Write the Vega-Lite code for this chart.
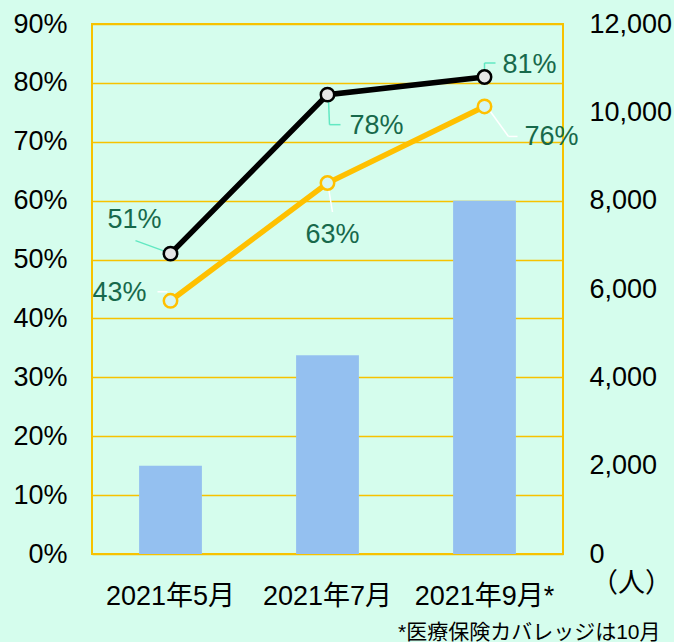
{
  "$schema": "https://vega.github.io/schema/vega-lite/v6.json",
  "width": 471,
  "height": 530,
  "autosize": {"type": "none"},
  "padding": {"left": 92, "top": 24, "right": 111, "bottom": 88},
  "background": "#d5fded",
  "config": {
    "font": "Liberation Sans, Noto Sans CJK JP",
    "view": {"stroke": "#f7c200", "strokeWidth": 2},
    "axis": {"labelFont": "Liberation Sans, Noto Sans CJK JP", "titleFont": "Liberation Sans, Noto Sans CJK JP"}
  },
  "data": {
    "values": [
      {"month": "2021年5月", "people": 2000, "rateA": 0.51, "rateB": 0.43},
      {"month": "2021年7月", "people": 4500, "rateA": 0.78, "rateB": 0.63},
      {"month": "2021年9月*", "people": 8000, "rateA": 0.81, "rateB": 0.76}
    ]
  },
  "encoding": {
    "x": {"field": "month", "type": "nominal", "sort": null,
      "scale": {"paddingInner": 0, "paddingOuter": 0},
      "axis": {"title": "*医療保険カバレッジは10月", "titleFontSize": 21, "titleFontWeight": "normal", "titleColor": "#000",
        "titleX": 568, "titleY": 78, "titleAlign": "right", "titleBaseline": "middle", "titleAnchor": null,
        "labelAngle": 0, "labelFontSize": 27, "labelColor": "#000", "labelPadding": 42, "labelBaseline": "middle",
        "ticks": false, "domain": false, "grid": false}}
  },
  "layer": [
    {
      "mark": {"type": "bar", "color": "#94c0f0", "width": {"band": 0.4}},
      "encoding": {
        "y": {"field": "people", "type": "quantitative",
          "scale": {"domain": [0, 12000], "nice": false},
          "axis": {"orient": "right", "values": [0, 2000, 4000, 6000, 8000, 10000, 12000], "format": ",.0f",
            "grid": false, "ticks": false, "domain": false, "labelFontSize": 27, "labelColor": "#000",
            "labelPadding": 26, "labelBaseline": "middle",
            "title": "（人）", "titleAngle": 0, "titleX": 68, "titleY": 559, "titleAlign": "center",
            "titleBaseline": "middle", "titleFontSize": 27, "titleFontWeight": "normal", "titleColor": "#000"}}
      }
    },
    {
      "layer": [
        {
          "mark": {"type": "line", "color": "#000000", "strokeWidth": 5.5},
          "encoding": {"y": {"field": "rateA", "type": "quantitative",
            "scale": {"domain": [0, 0.9], "nice": false},
            "axis": {"orient": "left", "values": [0, 0.1, 0.2, 0.3, 0.4, 0.5, 0.6, 0.7, 0.8, 0.9], "format": ".0%",
              "grid": true, "gridColor": "#f7c200", "gridWidth": 1.5, "gridOpacity": 1,
              "ticks": false, "domain": false, "labelFontSize": 27, "labelColor": "#000",
              "labelPadding": 25, "labelBaseline": "middle", "title": null}}}
        },
        {
          "mark": {"type": "line", "color": "#ffc000", "strokeWidth": 5.5},
          "encoding": {"y": {"field": "rateB", "type": "quantitative"}}
        },
        {
          "mark": {"type": "rule", "color": "#62e8c2", "strokeWidth": 1.5, "xOffset": -35, "yOffset": -13, "x2Offset": -2, "y2Offset": -1},
          "transform": [{"filter": "datum.month === '2021年5月'"}],
          "encoding": {"y": {"field": "rateA", "type": "quantitative"}, "x2": {"field": "month"}, "y2": {"field": "rateA"}}
        },
        {
          "mark": {"type": "rule", "color": "#ffffff", "strokeWidth": 1.5, "xOffset": -13, "yOffset": -9, "x2Offset": -3, "y2Offset": -9},
          "transform": [{"filter": "datum.month === '2021年5月'"}],
          "encoding": {"y": {"field": "rateB", "type": "quantitative"}, "x2": {"field": "month"}, "y2": {"field": "rateB"}}
        },
        {
          "mark": {"type": "rule", "color": "#62e8c2", "strokeWidth": 1.5, "xOffset": 1, "yOffset": 5, "x2Offset": 2, "y2Offset": 30},
          "transform": [{"filter": "datum.month === '2021年7月'"}],
          "encoding": {"y": {"field": "rateA", "type": "quantitative"}, "x2": {"field": "month"}, "y2": {"field": "rateA"}}
        },
        {
          "mark": {"type": "rule", "color": "#62e8c2", "strokeWidth": 1.5, "xOffset": 2, "yOffset": 30, "x2Offset": 13, "y2Offset": 30},
          "transform": [{"filter": "datum.month === '2021年7月'"}],
          "encoding": {"y": {"field": "rateA", "type": "quantitative"}, "x2": {"field": "month"}, "y2": {"field": "rateA"}}
        },
        {
          "mark": {"type": "rule", "color": "#ffffff", "strokeWidth": 1.5, "xOffset": 1, "yOffset": 5, "x2Offset": 5, "y2Offset": 29},
          "transform": [{"filter": "datum.month === '2021年7月'"}],
          "encoding": {"y": {"field": "rateB", "type": "quantitative"}, "x2": {"field": "month"}, "y2": {"field": "rateB"}}
        },
        {
          "mark": {"type": "rule", "color": "#62e8c2", "strokeWidth": 1.5, "xOffset": 0, "yOffset": -4, "x2Offset": 0, "y2Offset": -14},
          "transform": [{"filter": "datum.month === '2021年9月*'"}],
          "encoding": {"y": {"field": "rateA", "type": "quantitative"}, "x2": {"field": "month"}, "y2": {"field": "rateA"}}
        },
        {
          "mark": {"type": "rule", "color": "#62e8c2", "strokeWidth": 1.5, "xOffset": 0, "yOffset": -14, "x2Offset": 11, "y2Offset": -14},
          "transform": [{"filter": "datum.month === '2021年9月*'"}],
          "encoding": {"y": {"field": "rateA", "type": "quantitative"}, "x2": {"field": "month"}, "y2": {"field": "rateA"}}
        },
        {
          "mark": {"type": "rule", "color": "#ffffff", "strokeWidth": 1.5, "xOffset": 3, "yOffset": 1, "x2Offset": 24, "y2Offset": 30},
          "transform": [{"filter": "datum.month === '2021年9月*'"}],
          "encoding": {"y": {"field": "rateB", "type": "quantitative"}, "x2": {"field": "month"}, "y2": {"field": "rateB"}}
        },
        {
          "mark": {"type": "rule", "color": "#ffffff", "strokeWidth": 1.5, "xOffset": 24, "yOffset": 30, "x2Offset": 33, "y2Offset": 30},
          "transform": [{"filter": "datum.month === '2021年9月*'"}],
          "encoding": {"y": {"field": "rateB", "type": "quantitative"}, "x2": {"field": "month"}, "y2": {"field": "rateB"}}
        },
        {
          "mark": {"type": "point", "filled": true, "fill": "#e6e6e6", "stroke": "#000000", "strokeWidth": 2.5, "size": 180, "opacity": 1},
          "encoding": {"y": {"field": "rateA", "type": "quantitative"}}
        },
        {
          "mark": {"type": "point", "filled": true, "fill": "#d6f6f2", "stroke": "#ffc000", "strokeWidth": 2.5, "size": 180, "opacity": 1},
          "encoding": {"y": {"field": "rateB", "type": "quantitative"}}
        },
        {
          "mark": {"type": "text", "color": "#17694b", "fontSize": 27, "dx": -36, "dy": -34},
          "transform": [{"filter": "datum.month === '2021年5月'"}],
          "encoding": {"y": {"field": "rateA", "type": "quantitative"}, "text": {"field": "rateA", "format": ".0%"}}
        },
        {
          "mark": {"type": "text", "color": "#17694b", "fontSize": 27, "dx": -51, "dy": -8},
          "transform": [{"filter": "datum.month === '2021年5月'"}],
          "encoding": {"y": {"field": "rateB", "type": "quantitative"}, "text": {"field": "rateB", "format": ".0%"}}
        },
        {
          "mark": {"type": "text", "color": "#17694b", "fontSize": 27, "dx": 49, "dy": 31},
          "transform": [{"filter": "datum.month === '2021年7月'"}],
          "encoding": {"y": {"field": "rateA", "type": "quantitative"}, "text": {"field": "rateA", "format": ".0%"}}
        },
        {
          "mark": {"type": "text", "color": "#17694b", "fontSize": 27, "dx": 5, "dy": 52},
          "transform": [{"filter": "datum.month === '2021年7月'"}],
          "encoding": {"y": {"field": "rateB", "type": "quantitative"}, "text": {"field": "rateB", "format": ".0%"}}
        },
        {
          "mark": {"type": "text", "color": "#17694b", "fontSize": 27, "dx": 45, "dy": -12},
          "transform": [{"filter": "datum.month === '2021年9月*'"}],
          "encoding": {"y": {"field": "rateA", "type": "quantitative"}, "text": {"field": "rateA", "format": ".0%"}}
        },
        {
          "mark": {"type": "text", "color": "#17694b", "fontSize": 27, "dx": 67, "dy": 31},
          "transform": [{"filter": "datum.month === '2021年9月*'"}],
          "encoding": {"y": {"field": "rateB", "type": "quantitative"}, "text": {"field": "rateB", "format": ".0%"}}
        }
      ]
    }
  ],
  "resolve": {"scale": {"y": "independent"}}
}
